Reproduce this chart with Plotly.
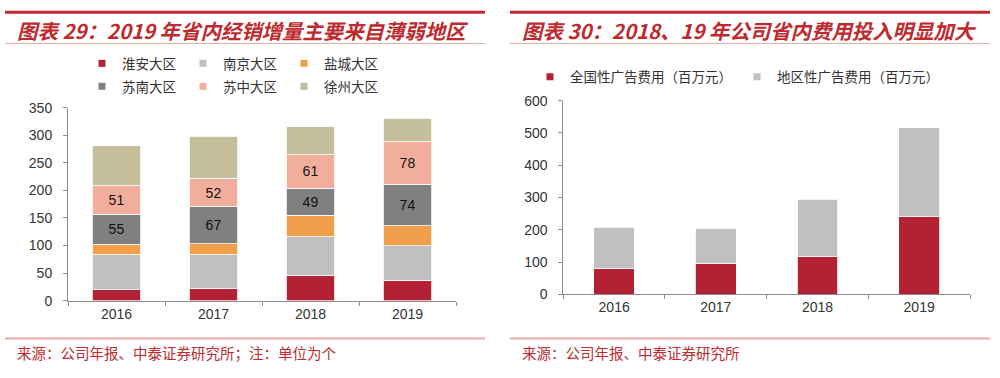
import plotly.graph_objects as go

# ---------------- data ----------------
years = ["2016", "2017", "2018", "2019"]

region_names = ["淮安大区", "南京大区", "盐城大区", "苏南大区", "苏中大区", "徐州大区"]
huaian = [20, 23, 45, 37]
nanjing = [63, 60, 71, 63]
yancheng = [19, 20, 39, 36]
sunan = [55, 67, 49, 74]
suzhong = [51, 52, 61, 78]
xuzhou = [73, 76, 50, 43]
region_values = [huaian, nanjing, yancheng, sunan, suzhong, xuzhou]
labeled_regions = ["苏南大区", "苏中大区"]

ad_names = ["全国性广告费用（百万元）", "地区性广告费用（百万元）"]
national_ad = [80, 95, 117, 240]
regional_ad = [128, 110, 178, 276]
ad_values = [national_ad, regional_ad]

left_ticks = [0, 50, 100, 150, 200, 250, 300, 350]
right_ticks = [0, 100, 200, 300, 400, 500, 600]

title_left = "图表 29：2019 年省内经销增量主要来自薄弱地区"
title_right = "图表 30：2018、19 年公司省内费用投入明显加大"
source_left = "来源：公司年报、中泰证券研究所；注：单位为个"
source_right = "来源：公司年报、中泰证券研究所"

# ---------------- styles ----------------
region_colors = ["#B22234", "#C0C0C0", "#F0A04B", "#808080", "#F2AE9C", "#C4BE9A"]
ad_colors = ["#B22234", "#C0C0C0"]
RED = "#BE2A2E"
PINK = "#E9A9A9"
CJK = "Noto Sans CJK SC"
NUM = "Arial, Liberation Sans, sans-serif"
W, H = 1000, 378


def px(x):
    return x / W


def py(y):
    return 1 - y / H


fig = go.Figure()

# left stacked bars
for i, (name, vals, col) in enumerate(zip(region_names, region_values, region_colors)):
    show_lbl = name in labeled_regions
    fig.add_trace(go.Bar(
        x=years, y=vals, name=name, xaxis="x", yaxis="y",
        marker=dict(color=col, line=dict(color="white", width=0.8)),
        width=0.5, showlegend=False,
        text=[str(v) for v in vals] if show_lbl else None,
        textposition="inside" if show_lbl else "none",
        insidetextanchor="middle",
        textfont=dict(family=NUM, size=14, color="#111111"),
    ))
    fig.add_trace(go.Scatter(
        x=[None], y=[None], mode="markers", name=name, xaxis="x", yaxis="y",
        marker=dict(symbol="square", size=7, color=col),
        showlegend=True, legend="legend" if i < 3 else "legend2",
    ))

# right stacked bars
for name, vals, col in zip(ad_names, ad_values, ad_colors):
    fig.add_trace(go.Bar(
        x=years, y=vals, name=name, xaxis="x2", yaxis="y2",
        marker=dict(color=col, line=dict(color="white", width=0.8)),
        width=0.4, showlegend=False,
    ))
    fig.add_trace(go.Scatter(
        x=[None], y=[None], mode="markers", name=name, xaxis="x2", yaxis="y2",
        marker=dict(symbol="square", size=7, color=col),
        showlegend=True, legend="legend3",
    ))

axis_common = dict(
    showline=True, linecolor="#8C8C8C", linewidth=1,
    ticks="outside", tickcolor="#8C8C8C", ticklen=4,
    showgrid=False, zeroline=False,
    tickfont=dict(family=NUM, size=14, color="#333333"),
)

legend_common = dict(
    orientation="h", xanchor="left", yanchor="middle", traceorder="normal",
    bgcolor="rgba(0,0,0,0)", borderwidth=0, itemclick=False,
)
leg_font = dict(family=CJK, size=13.5, color="#333333")

fig.update_layout(
    width=W, height=H,
    margin=dict(l=0, r=0, t=0, b=0),
    paper_bgcolor="white", plot_bgcolor="white",
    barmode="stack",
    xaxis=dict(domain=[px(68), px(456)], anchor="y", type="category",
               tickson="boundaries", range=[-0.5, 3.5], **axis_common),
    yaxis=dict(domain=[py(305.7), py(104)], anchor="x", range=[0, 350],
               tickvals=left_ticks, ticklabelstandoff=8, **axis_common),
    xaxis2=dict(domain=[px(563.3), px(970)], anchor="y2", type="category",
                tickson="boundaries", range=[-0.5, 3.5], **axis_common),
    yaxis2=dict(domain=[py(299), py(96.7)], anchor="x2", range=[0, 600],
                tickvals=right_ticks, ticklabelstandoff=8, **axis_common),
    legend=dict(x=px(82), y=py(58), entrywidth=56, font=leg_font, **legend_common),
    legend2=dict(x=px(82), y=py(82), entrywidth=56, font=leg_font, **legend_common),
    legend3=dict(x=px(530), y=py(72), font=leg_font, **legend_common),
    showlegend=True,
)

# decorative lines
shapes = []
for x0, x1 in [(5, 485), (510, 990)]:
    shapes.append(dict(type="line", xref="paper", yref="paper",
                       x0=px(x0), x1=px(x1), y0=py(4.5), y1=py(4.5),
                       line=dict(color=RED, width=3)))
    shapes.append(dict(type="line", xref="paper", yref="paper",
                       x0=px(x0), x1=px(x1), y0=py(37), y1=py(37),
                       line=dict(color=PINK, width=1)))
    shapes.append(dict(type="line", xref="paper", yref="paper",
                       x0=px(x0), x1=px(x1), y0=py(345), y1=py(345),
                       line=dict(color=PINK, width=2)))
fig.update_layout(shapes=shapes)

annotations = [
    dict(text=f"<b><i>{title_left}</i></b>", x=px(15), y=py(23)),
    dict(text=f"<b><i>{title_right}</i></b>", x=px(520), y=py(23)),
]
for a in annotations:
    a.update(xref="paper", yref="paper", xanchor="left", yanchor="middle",
             showarrow=False, font=dict(family=CJK, size=20.4, color=RED))
srcs = [
    dict(text=source_left, x=px(15), y=py(360)),
    dict(text=source_right, x=px(520), y=py(360)),
]
for a in srcs:
    a.update(xref="paper", yref="paper", xanchor="left", yanchor="middle",
             showarrow=False, font=dict(family=CJK, size=14.5, color=RED))
fig.update_layout(annotations=annotations + srcs)

fig.write_html(
    "out.html",
    config={"displayModeBar": False},
    post_script="document.body.style.margin='0';document.body.style.overflow='hidden';",
)
